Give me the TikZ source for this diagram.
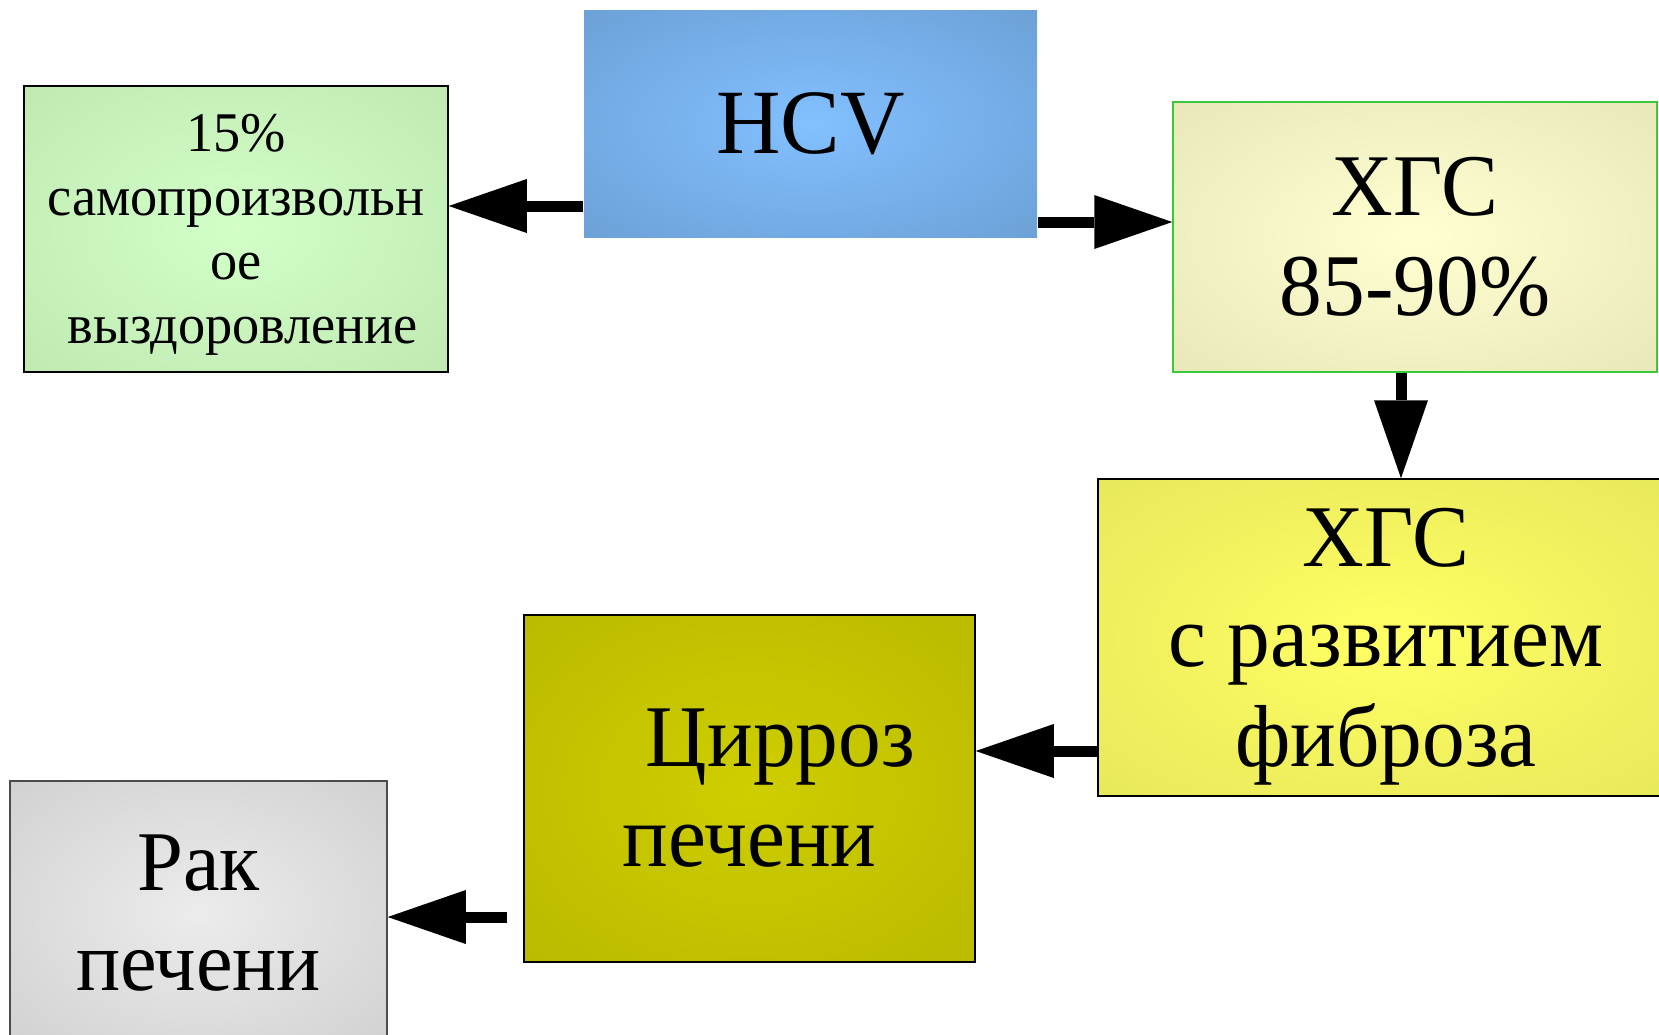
\documentclass[tikz,border=0pt]{standalone}
\usepackage{fontspec}
\setmainfont{Liberation Serif}[FakeStretch=0.97]
\usetikzlibrary{arrows.meta}

% цвета блоков (центр / край)
\definecolor{hcvIn}{RGB}{130,192,255}
\definecolor{hcvOut}{RGB}{100,148,198}
\definecolor{recIn}{RGB}{210,255,200}
\definecolor{recOut}{RGB}{184,224,168}
\definecolor{hgsIn}{RGB}{255,255,208}
\definecolor{hgsOut}{RGB}{224,222,178}
\definecolor{hgsLine}{RGB}{60,200,60}
\definecolor{fibIn}{RGB}{255,255,100}
\definecolor{fibOut}{RGB}{222,222,88}
\definecolor{cirIn}{RGB}{206,206,0}
\definecolor{cirOut}{RGB}{178,178,0}
\definecolor{rakIn}{RGB}{236,236,236}
\definecolor{rakOut}{RGB}{198,198,198}

\pgfdeclareradialshading{hcvshade}{\pgfpoint{0bp}{0bp}}{color(0bp)=(hcvIn); color(50bp)=(hcvOut); color(72bp)=(hcvOut)}
\pgfdeclareradialshading{recshade}{\pgfpoint{0bp}{0bp}}{color(0bp)=(recIn); color(50bp)=(recOut); color(72bp)=(recOut)}
\pgfdeclareradialshading{hgsshade}{\pgfpoint{0bp}{0bp}}{color(0bp)=(hgsIn); color(50bp)=(hgsOut); color(72bp)=(hgsOut)}
\pgfdeclareradialshading{fibshade}{\pgfpoint{0bp}{0bp}}{color(0bp)=(fibIn); color(50bp)=(fibOut); color(72bp)=(fibOut)}
\pgfdeclareradialshading{cirshade}{\pgfpoint{0bp}{0bp}}{color(0bp)=(cirIn); color(50bp)=(cirOut); color(72bp)=(cirOut)}
\pgfdeclareradialshading{rakshade}{\pgfpoint{0bp}{0bp}}{color(0bp)=(rakIn); color(50bp)=(rakOut); color(72bp)=(rakOut)}

\begin{document}
\begin{tikzpicture}[x=1pt, y=-1pt,
  box/.style={draw=black, line width=1.5pt, inner sep=0pt, align=center},
  bigtext/.style={font=\fontsize{88}{100}\selectfont},
  flow/.style={line width=11pt, -{Triangle[length=78pt, width=54pt, line width=0pt]}}]

\useasboundingbox (0,0) rectangle (1659,1034);

% Блоки
\node[box, draw=none, shading=hcvshade, minimum width=453pt, minimum height=227pt,
      font=\fontsize{92}{104}\selectfont] (hcv) at (810.5,124) {HCV};
\node[box, shading=recshade, minimum width=424pt, minimum height=286pt, text depth=0pt,
      font=\fontsize{56}{64}\selectfont] (rec) at (236,229)
      {15\%\\самопроизвольн\\ое\\\hspace*{0.25em}выздоровление};
\node[box, draw=hgsLine, shading=hgsshade, minimum width=484pt, minimum height=270pt,
      bigtext] (hgs) at (1415,237) {ХГС\\85-90\%};
\node[box, shading=fibshade, minimum width=576pt, minimum height=317pt, text depth=0pt,
      bigtext] (fib) at (1386,637.5) {ХГС\\с развитием\\фиброза};
\node[box, shading=cirshade, minimum width=451pt, minimum height=347pt,
      bigtext] (cir) at (749.5,788.5) {\hspace*{0.7em}Цирроз\\печени};
\node[box, draw=black!70, shading=rakshade, minimum width=377pt, minimum height=265pt,
      font=\fontsize{85}{100}\selectfont] (rak) at (198.5,913.5) {Рак\\печени};

% Стрелки
\coordinate (a1) at ([yshift=-82pt]hcv.west);
\coordinate (a2) at ([yshift=-98pt]hcv.east);
\coordinate (a3) at ([xshift=-14pt]hgs.south);
\coordinate (a4) at ([yshift=-113.5pt]fib.west);
\coordinate (a5) at ([yshift=-128.5pt]cir.west);

\draw[flow] (a1) -- (a1 -| rec.east);
\draw[flow] (a2) -- (a2 -| hgs.west);
\draw[flow] (a3) -- (a3 |- fib.north);
\draw[flow] (a4) -- (a4 -| cir.east);
\draw[flow, shorten <=16pt] (a5) -- (a5 -| rak.east);

\end{tikzpicture}
\end{document}
